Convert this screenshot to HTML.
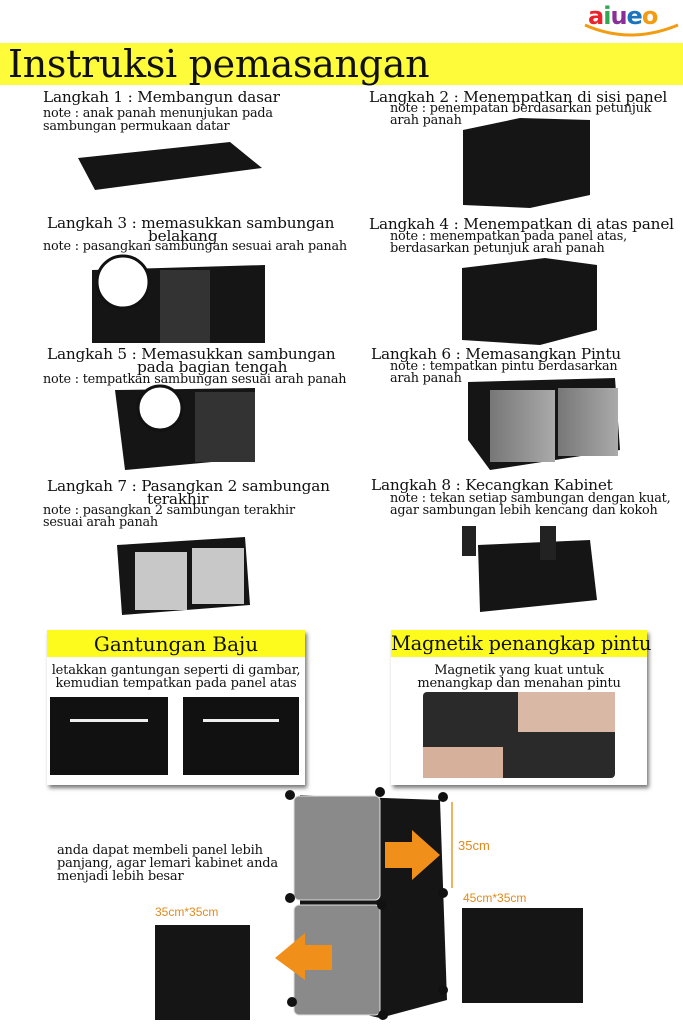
<!DOCTYPE html>
<html><head><meta charset="utf-8"><style>
body{margin:0;width:683px;height:1024px;position:relative;background:#fff;overflow:hidden;font-family:"DejaVu Serif","Liberation Serif",serif;color:#111}
.t{position:absolute;white-space:nowrap;line-height:1}
.h{font-size:15.3px;letter-spacing:-0.2px}
.n{font-size:12.8px;letter-spacing:-0.2px}
svg{position:absolute;left:0;top:0}
</style></head><body>
<div class="t" style="left:588px;top:4px;font-family:'DejaVu Sans',sans-serif;font-weight:bold;font-size:24px;letter-spacing:-1px"><span style="color:#e8232b">a</span><span style="color:#2fa84f">i</span><span style="color:#8a2e9a">u</span><span style="color:#1c75bc">e</span><span style="color:#f39c12">o</span></div>
<div style="position:absolute;left:0;top:43px;width:683px;height:42px;background:#fdfb3a"></div>
<div class="t" style="left:8px;top:45px;font-size:38px;letter-spacing:-0.3px">Instruksi pemasangan</div>

<div class="t h" style="left:43px;top:90px">Langkah 1 : Membangun dasar</div>
<div class="t n" style="left:43px;top:107px;line-height:13px">note : anak panah menunjukan pada<br>sambungan permukaan datar</div>
<div class="t h" style="left:369px;top:90px">Langkah 2 : Menempatkan di sisi panel</div>
<div class="t n" style="left:390px;top:103px;line-height:12px">note : penempatan berdasarkan petunjuk<br>arah panah</div>

<div class="t h" style="left:47px;top:217px;line-height:13px">Langkah 3 : memasukkan sambungan<br><span style="margin-left:101px">belakang</span></div>
<div class="t n" style="left:43px;top:241px">note : pasangkan sambungan sesuai arah panah</div>
<div class="t h" style="left:369px;top:217px">Langkah 4 : Menempatkan di atas panel</div>
<div class="t n" style="left:390px;top:231px;line-height:12px">note : menempatkan pada panel atas,<br>berdasarkan petunjuk arah panah</div>

<div class="t h" style="left:47px;top:348px;line-height:13px">Langkah 5 : Memasukkan sambungan<br><span style="margin-left:90px">pada bagian tengah</span></div>
<div class="t n" style="left:43px;top:374px">note : tempatkan sambungan sesuai arah panah</div>
<div class="t h" style="left:371px;top:347px">Langkah 6 : Memasangkan Pintu</div>
<div class="t n" style="left:390px;top:361px;line-height:12px">note : tempatkan pintu berdasarkan<br>arah panah</div>

<div class="t h" style="left:47px;top:480px;line-height:13px">Langkah 7 : Pasangkan 2 sambungan<br><span style="margin-left:100px">terakhir</span></div>
<div class="t n" style="left:43px;top:505px;line-height:12px">note : pasangkan 2 sambungan terakhir<br>sesuai arah panah</div>
<div class="t h" style="left:371px;top:478px">Langkah 8 : Kecangkan Kabinet</div>
<div class="t n" style="left:390px;top:493px;line-height:12px">note : tekan setiap sambungan dengan kuat,<br>agar sambungan lebih kencang dan kokoh</div>

<svg width="683" height="1024">
<defs><linearGradient id="g" x1="0" x2="1"><stop offset="0" stop-color="#777"/><stop offset="1" stop-color="#aaa"/></linearGradient></defs>
<path d="M585,25 Q630,45 678,25" fill="none" stroke="#f39c12" stroke-width="3"/>
<g fill="#151515">
<polygon points="78,158 230,142 262,168 95,190"/>
<polygon points="463,130 520,118 590,120 590,195 530,208 463,205"/>
<polygon points="92,270 265,265 265,343 92,343"/>
<polygon points="462,268 545,258 597,265 597,330 540,345 462,340"/>
<polygon points="115,390 255,388 255,458 125,470"/>
<polygon points="468,382 615,378 620,450 490,470 468,440"/>
<polygon points="117,545 245,537 250,605 122,615"/>
<polygon points="478,545 590,540 597,600 480,612"/>
<polygon points="300,795 440,800 447,1000 380,1018 300,1000"/>
<rect x="462" y="908" width="121" height="95"/>
<rect x="155" y="925" width="95" height="95"/>
</g>
<g fill="#333"><rect x="160" y="270" width="50" height="73"/><rect x="195" y="392" width="60" height="70"/></g>
<circle cx="123" cy="282" r="26" fill="#fff" stroke="#111" stroke-width="3"/>
<circle cx="160" cy="408" r="22" fill="#fff" stroke="#111" stroke-width="3"/>
<g fill="url(#g)"><rect x="490" y="390" width="65" height="72"/><rect x="558" y="388" width="60" height="68"/></g>
<g fill="#c8c8c8"><rect x="135" y="552" width="52" height="58"/><rect x="192" y="548" width="52" height="56"/></g>
<g fill="#8a8a8a" stroke="#ddd"><rect x="294" y="796" width="86" height="104" rx="5"/><rect x="294" y="905" width="86" height="110" rx="5"/></g>
<g fill="#111"><circle cx="290" cy="795" r="5"/><circle cx="380" cy="792" r="5"/><circle cx="443" cy="797" r="5"/><circle cx="290" cy="898" r="5"/><circle cx="443" cy="893" r="5"/><circle cx="382" cy="905" r="5"/><circle cx="292" cy="1002" r="5"/><circle cx="443" cy="990" r="5"/><circle cx="383" cy="1015" r="5"/></g>
<g fill="#f0901a"><polygon points="385,842 412,842 412,830 440,855 412,880 412,868 385,868"/><polygon points="332,945 305,945 305,933 275,958 305,980 305,970 332,970"/></g>
<line x1="452" y1="802" x2="452" y2="888" stroke="#e69a2e" stroke-width="1.5"/>
<text x="458" y="850" font-family="Liberation Sans" font-size="13" fill="#e08a1e">35cm</text>
<text x="463" y="902" font-family="Liberation Sans" font-size="12" fill="#e08a1e">45cm*35cm</text>
<text x="155" y="916" font-family="Liberation Sans" font-size="12" fill="#e08a1e">35cm*35cm</text>
<g fill="#222"><rect x="462" y="526" width="14" height="30"/><rect x="540" y="526" width="16" height="34"/></g>
</svg>

<div style="position:absolute;left:47px;top:630px;width:258px;height:155px;background:#fff;box-shadow:2px 3px 4px #777">
<div style="height:27px;background:#fdfb1e;text-align:center;font-size:20px;line-height:28px;white-space:nowrap">Gantungan Baju</div>
<div class="n" style="text-align:center;margin-top:7px;line-height:13px;font-size:13px;white-space:nowrap">letakkan gantungan seperti di gambar,<br>kemudian tempatkan pada panel atas</div>
<div style="position:absolute;left:3px;top:67px;width:118px;height:78px;background:#111"><div style="margin:22px 20px 0;height:3px;background:#eee"></div></div>
<div style="position:absolute;left:136px;top:67px;width:116px;height:78px;background:#111"><div style="margin:22px 20px 0;height:3px;background:#eee"></div></div>
</div>
<div style="position:absolute;left:391px;top:630px;width:256px;height:155px;background:#fff;box-shadow:2px 3px 4px #777">
<div style="height:27px;background:#fdfb1e;text-align:center;font-size:19.5px;line-height:28px;white-space:nowrap;letter-spacing:-0.3px">Magnetik penangkap pintu</div>
<div class="n" style="text-align:center;margin-top:7px;line-height:13px;font-size:13px;white-space:nowrap">Magnetik yang kuat untuk<br>menangkap dan menahan pintu</div>
<div style="position:absolute;left:32px;top:62px;width:192px;height:86px;background:#2a2a2a;border-radius:4px"><div style="position:absolute;left:95px;top:0;width:97px;height:40px;background:#d9b8a6"></div><div style="position:absolute;left:0;top:55px;width:80px;height:31px;background:#d7b09c"></div></div>
</div>
<div class="t n" style="left:57px;top:844px;line-height:13px;font-size:13px">anda dapat membeli panel lebih<br>panjang, agar lemari kabinet anda<br>menjadi lebih besar</div>
</body></html>
